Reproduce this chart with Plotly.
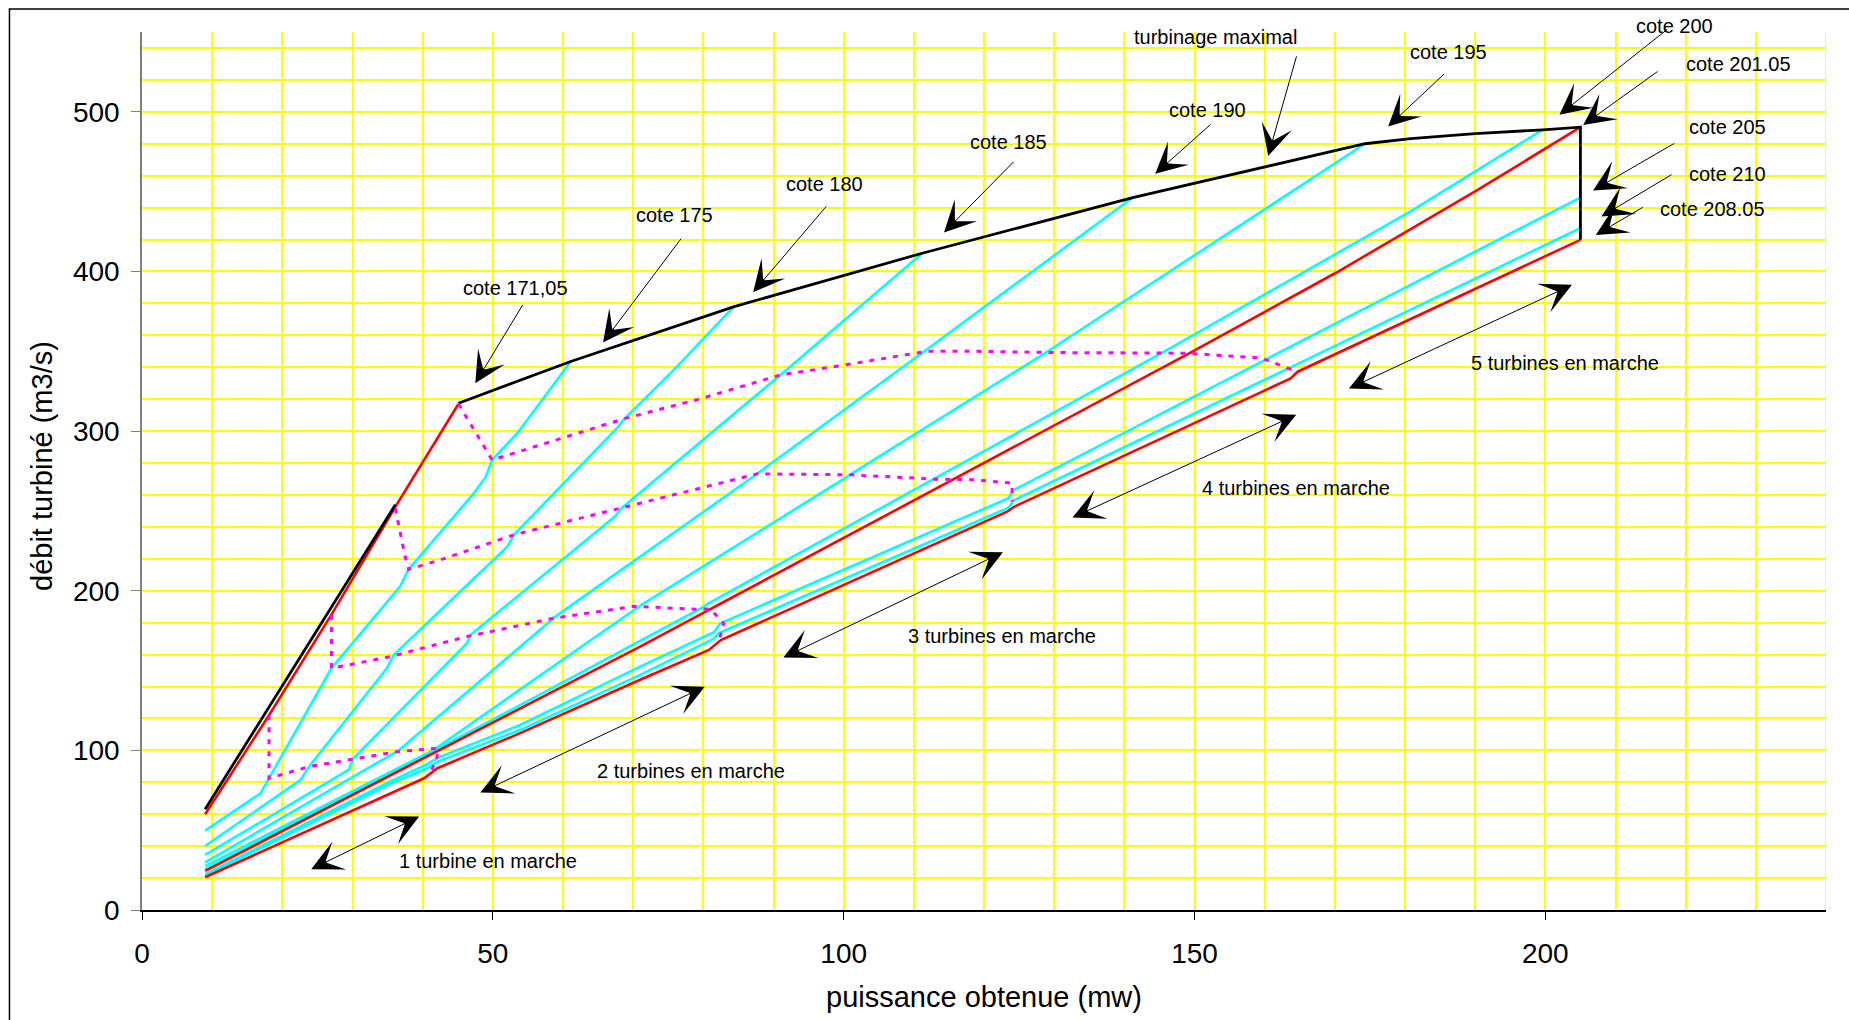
import plotly.graph_objects as go

# ---------------- data ----------------
power_ticks = [0, 50, 100, 150, 200]
flow_ticks = [0, 100, 200, 300, 400, 500]

# black : "turbinage maximal" envelope
max_x = [9, 36.1, None, 45.1, 61.1, 84.4, 111.2, 141.2, 174.3, 180.8, 190, 199.6, 205, 205]
max_y = [63.1, 253.8, None, 317.4, 343.6, 378, 411.4, 446.3, 480, 483.2, 486.4, 488.7, 490.4, 419.8]

# red curves
red_17105_x = [9, 18.1, 27, 36.1, 45.1]
red_17105_y = [60, 122, 185, 252.5, 317]
red_20105_x = [9, 39.7, 41.8, 53.9, 71, 81, 82.5, 149.3, 170.3, 190, 205]
red_20105_y = [24.5, 94, 99.2, 126.4, 165, 188.5, 192, 348.8, 399.5, 450.1, 490.4]
red_20805_x = [9, 40.2, 42.1, 53.9, 71, 80.8, 82.5, 123.3, 124.3, 155.1, 163.7, 164.7, 205]
red_20805_y = [20.5, 82.5, 88.8, 110.8, 144.2, 162.9, 169.1, 249.5, 252.6, 315.3, 333, 337.2, 419.8]

# cyan curves
cyan_175_x = [9, 16.9, 18.1, 25, 27, 36.8, 38, 47.1, 49, 49.9, 53.5, 61.1]
cyan_175_y = [49.7, 73.1, 82.5, 136, 151.4, 202.8, 213.4, 260, 271.3, 281.9, 298.7, 343.6]
cyan_180_x = [9, 22.6, 23.8, 34.9, 35.9, 52.1, 53, 67.7, 68.6, 75.8, 84.35]
cyan_180_y = [40.1, 81.5, 89.8, 151.4, 159.8, 227.7, 235, 301.8, 307, 338.3, 378]
cyan_185_x = [9, 29.5, 30, 46.3, 46.8, 67.4, 68.3, 91, 111.2]
cyan_185_y = [34.5, 88, 94.4, 167, 172.3, 246.5, 251.5, 335.2, 411.4]
cyan_190_x = [9, 36, 36.6, 58.2, 58.8, 87.3, 87.9, 111.5, 141.2]
cyan_190_y = [29.9, 98, 100, 181, 183.5, 272, 274, 350, 446.3]
cyan_195_x = [9, 41.7, 42.1, 70.8, 71.3, 100.7, 101.2, 128.6, 129.1, 174.3]
cyan_195_y = [27.5, 100.5, 102, 189.5, 191.5, 272, 273.5, 348.5, 350, 480]
cyan_200_x = [9, 42, 53.9, 80.1, 80.7, 112.9, 113.4, 145.3, 180.8, 199.6]
cyan_200_y = [25.5, 100.7, 128.4, 190, 192, 270, 271.5, 348.8, 437.6, 488.7]
cyan_205_x = [9, 35.4, 40.5, 42.2, 53.9, 71, 81.5, 82.4, 123.5, 124.2, 160, 205]
cyan_205_y = [22.5, 80.5, 91, 95.5, 115.9, 152.5, 174, 179.5, 258, 263, 344.5, 446.3]
cyan_210_x = [9, 35.4, 40.5, 42.2, 53.9, 71, 81.5, 82.2, 123.5, 124.2, 164.2, 205]
cyan_210_y = [21.5, 79, 88.5, 93, 112.8, 147.3, 170, 173.4, 252, 256.5, 341, 427.1]

# magenta dotted : change in the number of running turbines
m1_x = [18.1, 18.1, 23.8, 30, 36.4, 42.07, 42.07, 41.1]
m1_y = [122, 82.5, 89.8, 94.4, 99.2, 101.3, 96.1, 85.6]
m2_x = [27, 27, 35.4, 46.3, 58.7, 70.1, 79.1, 81, 82.9, 82.2]
m2_y = [184.8, 151.4, 158.7, 171.3, 182.8, 190.2, 188.4, 188.6, 179.6, 168.1]
m3_x = [36.1, 37.5, 38, 42.5, 53, 68.8, 71, 87.7, 101, 112.9, 118.6, 124, 124]
m3_y = [251.5, 221.3, 213.4, 219.3, 235, 252.6, 254.8, 273.2, 272.6, 269.9, 269.5, 267.4, 255.9]
m4_x = [45.1, 49.9, 60.6, 68.9, 79.1, 91, 99.6, 111.9, 118.6, 130, 148.9, 159.6, 164.4]
m4_y = [317, 281.9, 296.6, 308, 319.6, 335.2, 341, 350, 350, 349.2, 348.8, 345.7, 337.5]

# labels
cote_texts = ["cote 171,05", "cote 175", "cote 180", "cote 185", "cote 190",
              "turbinage maximal", "cote 195", "cote 200", "cote 201.05",
              "cote 205", "cote 210", "cote 208.05"]
turbine_texts = ["1 turbine en marche", "2 turbines en marche", "3 turbines en marche",
                 "4 turbines en marche", "5 turbines en marche"]

# ---------------- figure ----------------
FONT = "Liberation Sans, Arial, sans-serif"
CYAN, RED, BLACK, MAGENTA, YELLOW = "#00FFFF", "#FF0000", "#000000", "#FF00FF", "#FFFF00"
X_MAX, Y_MAX = 240, 550
HEAD = 5.2

fig = go.Figure()

def line(x, y, color, width=2.6, dash=None):
    fig.add_trace(go.Scatter(x=x, y=y, mode="lines", hoverinfo="skip",
                             line=dict(color=color, width=width, dash=dash),
                             connectgaps=False, showlegend=False))

for cx, cy in [(cyan_175_x, cyan_175_y), (cyan_180_x, cyan_180_y), (cyan_185_x, cyan_185_y),
               (cyan_190_x, cyan_190_y), (cyan_195_x, cyan_195_y), (cyan_200_x, cyan_200_y),
               (cyan_205_x, cyan_205_y), (cyan_210_x, cyan_210_y)]:
    line(cx, cy, CYAN)
for rx, ry in [(red_17105_x, red_17105_y), (red_20105_x, red_20105_y), (red_20805_x, red_20805_y)]:
    line(rx, ry, RED)
line(max_x, max_y, BLACK, width=2.8)
for mx, my in [(m1_x, m1_y), (m2_x, m2_y), (m3_x, m3_y), (m4_x, m4_y)]:
    line(mx, my, MAGENTA, width=3, dash="5px,7px")

annotations = []

def text_ann(x, y, txt):
    # labels above the plotting range are placed in paper units so they are not hidden
    if y > Y_MAX:
        return dict(x=x, y=y / Y_MAX, xref="x", yref="paper", text=txt, showarrow=False,
                    font=dict(family=FONT, size=20, color="black"),
                    xanchor="center", yanchor="middle")
    return dict(x=x, y=y, xref="x", yref="y", text=txt, showarrow=False,
                font=dict(family=FONT, size=20, color="black"),
                xanchor="center", yanchor="middle")

# label placements: text (x, y), arrow tail (x, y), arrow tip (x, y)
cote_pos = [
    ((53.2, 389.7), (54.4, 380.1), (47.5, 330)),
    ((75.9, 435.5), (77, 421.5), (65.7, 355.5)),
    ((97.3, 454.9), (97.7, 441.7), (87.1, 387)),
    ((123.5, 481.4), (124.4, 469.5), (114.3, 424.4)),
    ((151.8, 501.3), (152.5, 492.9), (144.4, 461.2)),
    ((153.0, 546.7), (164.6, 535.7), (160.5, 472.4)),
    ((186.2, 537.3), (185.8, 524.6), (177.6, 490.8)),
    ((218.4, 554.0), (217.6, 552.4), (202.0, 498.1)),
    ((227.6, 529.9), (216.2, 525.9), (205.4, 491.8)),
    ((225.9, 490.3), (218.6, 480.8), (206.8, 450.7)),
    ((225.9, 461.0), (218.2, 461.2), (208.0, 434.4)),
    ((223.8, 439.1), (214.1, 440.7), (207.2, 422.9)),
]
for txt, (tp, tail, tip) in zip(cote_texts, cote_pos):
    annotations.append(text_ann(tp[0], tp[1], txt))
    annotations.append(dict(x=tip[0], y=tip[1], ax=tail[0], ay=tail[1], xref="x", yref="y",
                            axref="x", ayref="y", text="", showarrow=True, arrowhead=3,
                            arrowsize=HEAD, arrowwidth=1, arrowcolor="black", standoff=0))

turb_pos = [
    ((49.3, 30.8), (39.5, 58.5), (23.9, 25.1)),
    ((78.3, 87.2), (80.2, 139.9), (48.0, 73.1)),
    ((122.5, 171.8), (122.7, 224.1), (91.2, 157.7)),
    ((164.5, 264.2), (164.5, 310.2), (132.4, 245.4)),
    ((202.8, 342.5), (203.8, 391.6), (171.8, 326.2)),
]
for txt, (tp, a, b) in zip(turbine_texts, turb_pos):
    annotations.append(text_ann(tp[0], tp[1], txt))
    annotations.append(dict(x=a[0], y=a[1], ax=b[0], ay=b[1], xref="x", yref="y",
                            axref="x", ayref="y", text="", showarrow=True,
                            arrowhead=3, startarrowhead=3, arrowside="end+start",
                            arrowsize=HEAD, startarrowsize=HEAD, arrowwidth=1,
                            arrowcolor="black", standoff=0, startstandoff=0))

# axis titles
annotations.append(dict(x=0.5, y=-0.0991, xref="paper", yref="paper",
                        text="puissance obtenue (mw)", showarrow=False,
                        font=dict(family=FONT, size=29, color="black"),
                        xanchor="center", yanchor="middle"))
annotations.append(dict(x=-0.0594, y=0.5057, xref="paper", yref="paper",
                        text="débit turbiné (m3/s)", showarrow=False, textangle=-90,
                        font=dict(family=FONT, size=29, color="black"),
                        xanchor="center", yanchor="middle"))

shapes = [
    # outer chart border
    dict(type="rect", xref="paper", yref="paper", x0=-0.0787, x1=1.03, y0=-0.14, y1=1.0262,
         line=dict(color="black", width=1.5), fillcolor="rgba(0,0,0,0)", layer="below"),
    # right edge grid line
    dict(type="line", xref="x", yref="y", x0=X_MAX, x1=X_MAX, y0=0, y1=Y_MAX,
         line=dict(color=YELLOW, width=1.5), layer="below"),
]

fig.update_layout(
    width=1849, height=1020,
    margin=dict(l=142, r=23, t=32, b=110, pad=0),
    paper_bgcolor="white", plot_bgcolor="white",
    showlegend=False,
    font=dict(family=FONT, color="black"),
    annotations=annotations,
    shapes=shapes,
)
fig.update_xaxes(
    range=[0, X_MAX], tickmode="array", tickvals=power_ticks,
    ticks="outside", ticklen=8, tickwidth=1, tickcolor="black",
    showline=True, linecolor="black", linewidth=1.5, mirror=False,
    showgrid=True, gridcolor=YELLOW, gridwidth=1.5, zeroline=False,
    minor=dict(tickmode="linear", dtick=10, tick0=0, showgrid=True,
               gridcolor=YELLOW, gridwidth=1.5, ticks=""),
    tickfont=dict(family=FONT, size=28, color="black"),
    ticklabelstandoff=10, fixedrange=True,
)
fig.update_yaxes(
    range=[0, Y_MAX], tickmode="array", tickvals=flow_ticks,
    ticks="outside", ticklen=9, tickwidth=1, tickcolor="#808080",
    showline=True, linecolor="#808080", linewidth=1.5, mirror=False,
    showgrid=True, gridcolor=YELLOW, gridwidth=1.5, zeroline=False,
    minor=dict(tickmode="linear", dtick=20, tick0=0, showgrid=True,
               gridcolor=YELLOW, gridwidth=1.5, ticks=""),
    tickfont=dict(family=FONT, size=28, color="black"),
    ticklabelstandoff=6, fixedrange=True,
)

fig.write_html("out.html")
